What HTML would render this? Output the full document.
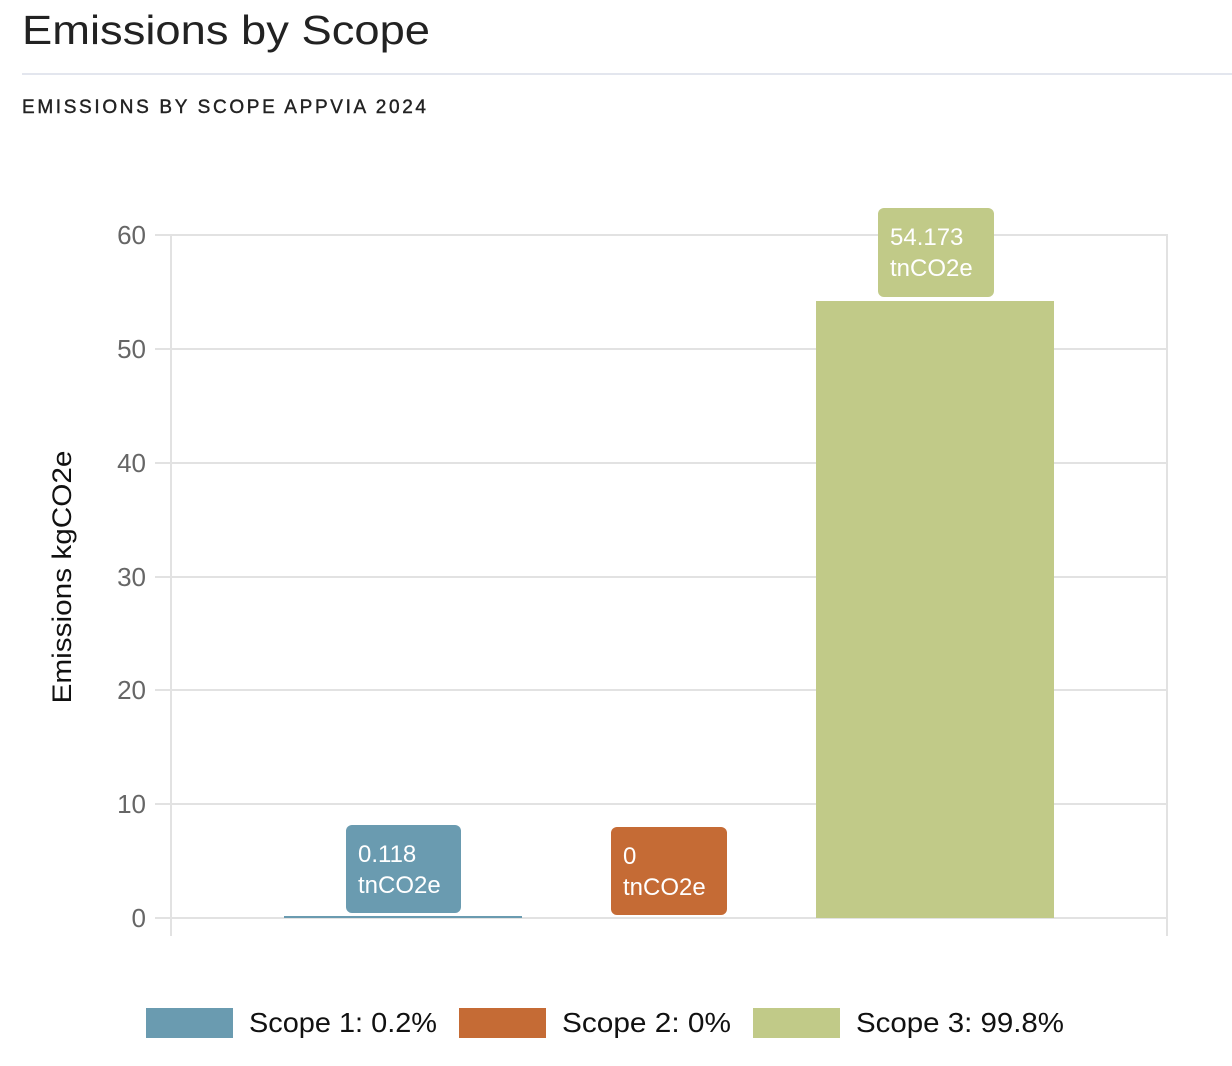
<!DOCTYPE html>
<html><head><style>
body{margin:0;width:1232px;height:1066px;background:#fff;overflow:hidden;font-family:"Liberation Sans",sans-serif;}
</style></head><body>
<svg width="1232" height="1066" xmlns="http://www.w3.org/2000/svg" style="position:absolute;left:0;top:0">
<text x="22" y="44" font-size="41" fill="#222" textLength="408" lengthAdjust="spacingAndGlyphs">Emissions by Scope</text>
<rect x="22" y="73" width="1210" height="2" fill="#e3e6ee"/>
<text x="22" y="113" font-size="19" fill="#222" textLength="404" lengthAdjust="spacing" stroke="#222" stroke-width="0.4">EMISSIONS BY SCOPE APPVIA 2024</text>
<g stroke="#e2e2e2" stroke-width="2">
<line x1="155" y1="235" x2="1168" y2="235"/>
<line x1="155" y1="349" x2="1168" y2="349"/>
<line x1="155" y1="463" x2="1168" y2="463"/>
<line x1="155" y1="577" x2="1168" y2="577"/>
<line x1="155" y1="690" x2="1168" y2="690"/>
<line x1="155" y1="804" x2="1168" y2="804"/>
<line x1="155" y1="918" x2="1168" y2="918"/>
<line x1="171" y1="235" x2="171" y2="936"/>
<line x1="1167" y1="235" x2="1167" y2="936"/>
</g>
<g font-size="26" fill="#666" text-anchor="end">
<text x="146" y="244">60</text><text x="146" y="358">50</text><text x="146" y="472">40</text>
<text x="146" y="586">30</text><text x="146" y="699">20</text><text x="146" y="813">10</text>
<text x="146" y="927">0</text>
</g>
<text transform="translate(71,577) rotate(-90)" font-size="27" fill="#111" text-anchor="middle" textLength="253" lengthAdjust="spacingAndGlyphs">Emissions kgCO2e</text>
<rect x="284" y="916" width="238" height="2" fill="#6a9bb0"/>
<rect x="816" y="301" width="238" height="617" fill="#c1ca88"/>
<rect x="346" y="825" width="115" height="88" rx="6" fill="#6a9bb0"/>
<text x="358" y="862" font-size="24" fill="#fff">0.118</text><text x="358" y="893" font-size="24" fill="#fff">tnCO2e</text>
<rect x="611" y="827" width="116" height="88" rx="6" fill="#c56b35"/>
<text x="623" y="864" font-size="24" fill="#fff">0</text><text x="623" y="895" font-size="24" fill="#fff">tnCO2e</text>
<rect x="878" y="208" width="116" height="89" rx="6" fill="#c1ca88"/>
<text x="890" y="245" font-size="24" fill="#fff">54.173</text><text x="890" y="276" font-size="24" fill="#fff">tnCO2e</text>
<rect x="146" y="1008" width="87" height="30" fill="#6a9bb0"/>
<text x="249" y="1032" font-size="28" fill="#111" textLength="188" lengthAdjust="spacingAndGlyphs">Scope 1: 0.2%</text>
<rect x="459" y="1008" width="87" height="30" fill="#c56b35"/>
<text x="562" y="1032" font-size="28" fill="#111" textLength="169" lengthAdjust="spacingAndGlyphs">Scope 2: 0%</text>
<rect x="753" y="1008" width="87" height="30" fill="#c1ca88"/>
<text x="856" y="1032" font-size="28" fill="#111" textLength="208" lengthAdjust="spacingAndGlyphs">Scope 3: 99.8%</text>
</svg>
</body></html>
